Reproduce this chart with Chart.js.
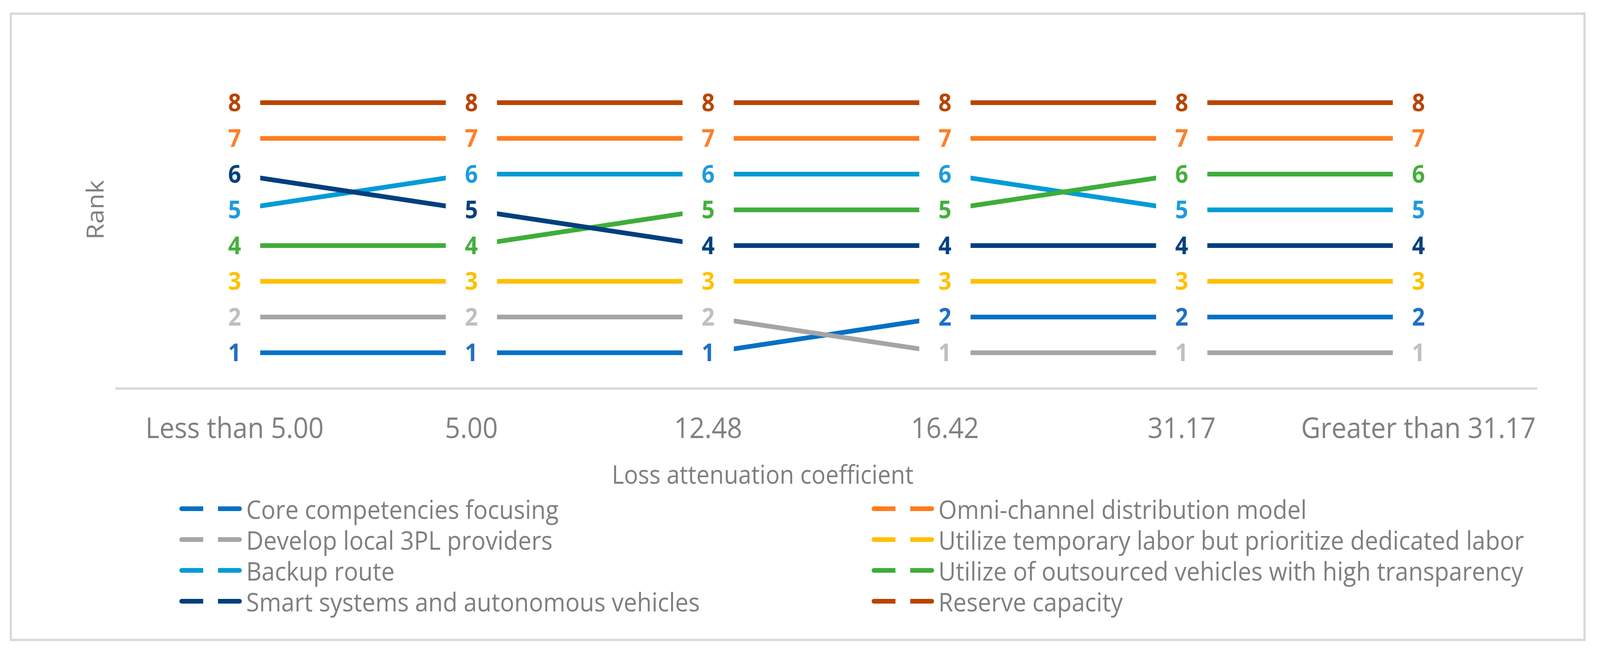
<!DOCTYPE html>
<html>
<head>
<meta charset="utf-8">
<script src="https://cdn.jsdelivr.net/npm/chart.js@4.4.1/dist/chart.umd.min.js"></script>
<style>
  html, body { margin: 0; padding: 0; background: #ffffff; overflow: hidden; }
  #wrap { position: absolute; left: 0; top: 0; width: 4433px; height: 1670px; overflow: hidden;
          background: #ffffff; transform-origin: 0 0; }
  #frame { position: absolute; left: 27px; top: 32px; width: 4366px; height: 1610px;
           border: 6px solid #D9D9D9; box-sizing: border-box; }
  #chart { position: absolute; left: 0; top: 0; }
  .xtitle { position: absolute; left: 1113px; top: 1174px; width: 2000px; height: 80px; line-height: 80px;
            text-align: center; font-family: "Open Sans"; font-size: 65px; color: #7F7F7F; white-space: nowrap; }
  .leg { position: absolute; height: 80px; display: flex; align-items: center;
         font-family: "Open Sans"; font-size: 66px; color: #7F7F7F; white-space: nowrap; }
  .sample { display: flex; align-items: center; width: 173px; height: 12px; }
  .dash { height: 12px; width: 66px; }
  .dash.a { border-radius: 6px 0 0 6px; }
  .dash.b { margin-left: 41px; border-radius: 0 6px 6px 0; }
  .leg span.txt { margin-left: 12px; }
</style>
</head>
<body>
<div id="wrap">
  <div id="frame"></div>
  <canvas id="chart"></canvas>
  <div class="xtitle" id="xtitle"></div>
  <div id="legend"></div>
</div>
<script>
// ---- Data ----
const categories = ['Less than 5.00', '5.00', '12.48', '16.42', '31.17', 'Greater than 31.17'];
const xAxisTitle = 'Loss attenuation coefficient';
const yAxisTitle = 'Rank';

const seriesNames = [
  'Core competencies focusing',
  'Omni-channel distribution model',
  'Develop local 3PL providers',
  'Utilize temporary labor but prioritize dedicated labor',
  'Backup route',
  'Utilize of outsourced vehicles with high transparency',
  'Smart systems and autonomous vehicles',
  'Reserve capacity'
];

const coreCompetencies   = [1, 1, 1, 2, 2, 2];
const omniChannel        = [7, 7, 7, 7, 7, 7];
const local3PL           = [2, 2, 2, 1, 1, 1];
const temporaryLabor     = [3, 3, 3, 3, 3, 3];
const backupRoute        = [5, 6, 6, 6, 5, 5];
const outsourcedVehicles = [4, 4, 5, 5, 6, 6];
const smartSystems       = [6, 5, 4, 4, 4, 4];
const reserveCapacity    = [8, 8, 8, 8, 8, 8];

const seriesValues = [coreCompetencies, omniChannel, local3PL, temporaryLabor,
                      backupRoute, outsourcedVehicles, smartSystems, reserveCapacity];

const lineColors  = ['#0570C6', '#FF7C1F', '#A5A5A5', '#FFC000', '#009BD6', '#3DAE3A', '#003F7F', '#B84500'];
const labelColors = ['#1F6FC5', '#FF7F27', '#BFBFBF', '#FFC000', '#1E9BDB', '#44AF3C', '#00407F', '#B84500'];

// ---- Fit the 4433x1670 design to the actual viewport ----
const W = 4433, H = 1670;
const vw = window.innerWidth || W, vh = window.innerHeight || H;
const sx = vw / W, sy = vh / H;
document.getElementById('wrap').style.transform = 'scale(' + sx + ',' + sy + ')';
const dpr = (window.devicePixelRatio || 1) * Math.max(sx, sy);

// ---- Data labels with white boxes (Excel style) ----
const pointLabels = {
  id: 'pointLabels',
  afterDatasetsDraw(chart) {
    const ctx = chart.ctx;
    ctx.save();
    ctx.font = 'bold 63px "Open Sans"';
    ctx.textAlign = 'center';
    ctx.textBaseline = 'middle';
    chart.data.datasets.forEach((ds, i) => {
      const meta = chart.getDatasetMeta(i);
      meta.data.forEach((pt, j) => {
        ctx.fillStyle = '#ffffff';
        ctx.fillRect(pt.x - 71, pt.y - 36, 142, 72);
        ctx.fillStyle = ds.labelColor;
        ctx.fillText(String(ds.data[j]), pt.x, pt.y + 4);
      });
    });
    ctx.restore();
  }
};

const datasets = seriesNames.map((name, i) => ({
  label: name,
  data: seriesValues[i],
  borderColor: lineColors[i],
  backgroundColor: lineColors[i],
  labelColor: labelColors[i],
  borderWidth: 12,
  pointRadius: 0,
  tension: 0,
  fill: false,
  order: seriesNames.length - i
}));

const canvas = document.getElementById('chart');
canvas.style.width = W + 'px';
canvas.style.height = H + 'px';
canvas.width = W;
canvas.height = H;

new Chart(canvas, {
  type: 'line',
  data: { labels: categories, datasets: datasets },
  plugins: [pointLabels],
  options: {
    responsive: false,
    animation: false,
    devicePixelRatio: dpr,
    layout: { padding: { left: 229, right: 175, top: 80, bottom: 475 } },
    plugins: { legend: { display: false }, tooltip: { enabled: false } },
    elements: { line: { borderCapStyle: 'butt' } },
    scales: {
      x: {
        offset: true,
        grid: { display: false, drawTicks: false },
        border: { display: true, color: '#D9D9D9', width: 6 },
        ticks: { color: '#7F7F7F', font: { family: 'Open Sans', size: 74 }, padding: 62,
                 maxRotation: 0, autoSkip: false },
        afterFit: (s) => { s.height = 200; }
      },
      y: {
        min: 0, max: 10,
        grid: { display: false, drawTicks: false },
        border: { display: false },
        ticks: { display: false },
        title: { display: true, text: yAxisTitle, color: '#7F7F7F',
                 font: { family: 'Open Sans', size: 66 }, padding: { top: 0, bottom: 13 } },
        afterFit: (s) => { s.width = 93; }
      }
    }
  }
});

// ---- X axis title and legend ----
document.getElementById('xtitle').textContent = xAxisTitle;

const legendColX = [497, 2415];
const legendRowY = [1303, 1382, 1461, 1540];
const legendEl = document.getElementById('legend');
seriesNames.forEach((name, i) => {
  const col = i % 2, row = Math.floor(i / 2);
  const item = document.createElement('div');
  item.className = 'leg';
  item.style.left = legendColX[col] + 'px';
  item.style.top = (legendRowY[row] - 40) + 'px';
  item.innerHTML = '<div class="sample"><div class="dash a" style="background:' + lineColors[i] +
    '"></div><div class="dash b" style="background:' + lineColors[i] + '"></div></div>';
  const t = document.createElement('span');
  t.className = 'txt';
  t.textContent = name;
  item.appendChild(t);
  legendEl.appendChild(item);
});
</script>
</body>
</html>
